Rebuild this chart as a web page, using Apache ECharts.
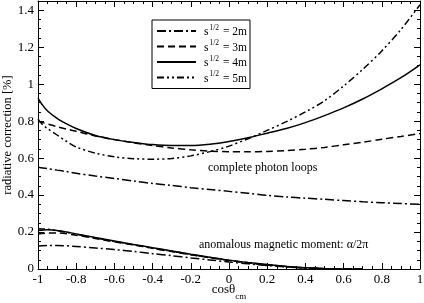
<!DOCTYPE html>
<html><head><meta charset="utf-8">
<script src="https://cdn.jsdelivr.net/npm/echarts@6/dist/echarts.min.js"></script>
<style>html,body{margin:0;padding:0;background:#fff}#c{width:424px;height:303px}</style>
</head><body><div id="c"></div>
<script>
const energies = ['2m', '3m', '4m', '5m'];
const cosFull = [-1,-0.975,-0.95,-0.9,-0.85,-0.8,-0.7,-0.6,-0.5,-0.4,-0.3,-0.2,-0.1,0,0.1,0.2,0.3,0.4,0.5,0.6,0.7,0.8,0.9,1];
const loops2m = [0.55,0.546,0.543,0.535,0.527,0.518,0.503,0.49,0.476,0.463,0.452,0.44,0.43,0.42,0.41,0.398,0.39,0.383,0.377,0.37,0.364,0.359,0.354,0.35];
const loops3m = [0.80,0.792,0.785,0.77,0.757,0.745,0.72,0.70,0.683,0.668,0.655,0.645,0.638,0.635,0.634,0.636,0.641,0.648,0.658,0.672,0.686,0.702,0.717,0.733];
const loops4m = [0.925,0.885,0.855,0.815,0.785,0.76,0.722,0.70,0.685,0.673,0.668,0.668,0.675,0.69,0.71,0.735,0.76,0.792,0.83,0.872,0.92,0.975,1.035,1.105];
const loops5m = [0.81,0.78,0.76,0.725,0.69,0.66,0.627,0.607,0.597,0.594,0.598,0.612,0.635,0.665,0.705,0.75,0.797,0.85,0.91,0.99,1.08,1.18,1.295,1.43];
const cosAnom = [-1,-0.95,-0.9,-0.8,-0.7,-0.6,-0.5,-0.4,-0.3,-0.2,-0.1,0,0.1,0.2,0.3,0.4,0.5,0.6,0.7];
const anom2m = [0.125,0.127,0.127,0.122,0.114,0.105,0.095,0.083,0.072,0.06,0.049,0.038,0.028,0.019,0.011,0.005,0.002,0.0005,0];
const anom3m = [0.19,0.194,0.195,0.183,0.165,0.147,0.13,0.112,0.094,0.077,0.061,0.046,0.033,0.022,0.013,0.006,0.002,0.0005,0];
const anom4m = [0.208,0.212,0.208,0.19,0.17,0.152,0.133,0.115,0.098,0.08,0.064,0.048,0.035,0.024,0.014,0.007,0.002,0.0005,0];
const anom5m = [0.218,0.215,0.208,0.188,0.168,0.149,0.131,0.113,0.096,0.079,0.063,0.047,0.034,0.023,0.013,0.006,0.002,0.0005,0];

const FONT = 'Liberation Serif';
const dashes = {
  '2m': [9, 3, 2, 3],
  '3m': [7, 4],
  '4m': 'solid',
  '5m': [7, 3, 2, 3, 2, 3]
};
const loops = {'2m': loops2m, '3m': loops3m, '4m': loops4m, '5m': loops5m};
const anom = {'2m': anom2m, '3m': anom3m, '4m': anom4m, '5m': anom5m};
const zip = (xs, ys) => xs.map((x, i) => [x, ys[i]]);

const series = [];
energies.forEach(e => {
  const base = {
    name: e, type: 'line', symbol: 'none', smooth: 0.3,
    lineStyle: {color: '#000', width: 1.5, type: dashes[e]},
    itemStyle: {color: '#000'}, z: 3
  };
  series.push(Object.assign({}, base, {data: zip(cosFull, loops[e])}));
  series.push(Object.assign({}, base, {data: zip(cosAnom, anom[e])}));
});

const tickCommon = {
  axisLine: {show: true, onZero: false, lineStyle: {color: '#000', width: 1}},
  axisTick: {show: true, inside: true, length: 6, lineStyle: {color: '#000'}},
  minorTick: {show: true, splitNumber: 4, length: 3, lineStyle: {color: '#000'}},
  splitLine: {show: false}
};
function mk(extra) { return Object.assign({}, JSON.parse(JSON.stringify(tickCommon)), extra); }

const chart = echarts.init(document.getElementById('c'), null, {renderer: 'canvas'});
chart.setOption({
  animation: false,
  backgroundColor: '#fff',
  grid: {left: 38, right: 4, top: 1, bottom: 34, outerBoundsMode: 'none', containLabel: false},
  legend: {
    data: energies,
    orient: 'vertical',
    left: 152, top: 20,
    padding: [4, 3, 4, 4],
    itemWidth: 39, itemHeight: 14, itemGap: 1.5,
    borderColor: '#000', borderWidth: 1, backgroundColor: '#fff',
    inactiveColor: '#000',
    itemStyle: {opacity: 0},
    formatter: n => '{s|s}{p|1/2}{t| = ' + n + '}',
    textStyle: {
      fontFamily: FONT, color: '#000', padding: [0, 0, 0, 3],
      rich: {
        s: {fontFamily: FONT, fontSize: 11.5, color: '#000', verticalAlign: 'bottom', lineHeight: 14},
        p: {fontFamily: FONT, fontSize: 7.5, color: '#000', verticalAlign: 'top', lineHeight: 14, padding: [0, 1, 0, 1]},
        t: {fontFamily: FONT, fontSize: 11.5, color: '#000', verticalAlign: 'bottom', lineHeight: 14}
      }
    }
  },
  xAxis: [
    mk({
      type: 'value', min: -1, max: 1, interval: 0.2, position: 'bottom',
      axisLabel: {fontFamily: FONT, fontSize: 13, color: '#000', margin: 4},
      name: '{a|cosθ}{b|cm}', nameLocation: 'middle', nameGap: 14, nameMoveOverlap: false,
      nameTextStyle: {rich: {
        a: {fontFamily: FONT, fontSize: 13, color: '#000', verticalAlign: 'top', lineHeight: 18},
        b: {fontFamily: FONT, fontSize: 9, color: '#000', verticalAlign: 'bottom', lineHeight: 18}
      }}
    }),
    mk({type: 'value', min: -1, max: 1, interval: 0.2, position: 'top', axisLabel: {show: false}})
  ],
  yAxis: [
    mk({
      type: 'value', min: 0, max: 1.45, interval: 0.2, position: 'left',
      axisLabel: {fontFamily: FONT, fontSize: 13, color: '#000', margin: 4,
        formatter: v => (Math.abs(Math.round(v * 5) - v * 5) < 1e-6) ? String(Math.round(v * 10) / 10) : ''},
      name: 'radiative correction [%]', nameLocation: 'middle', nameGap: 24, nameMoveOverlap: false,
      nameTextStyle: {fontFamily: FONT, fontSize: 12.5, color: '#000'}
    }),
    mk({type: 'value', min: 0, max: 1.45, interval: 0.2, position: 'right', axisLabel: {show: false}})
  ],
  graphic: [
    {type: 'text', left: 208, top: 162, z: 10,
     style: {text: 'complete photon loops', font: '12px "Liberation Serif"', fill: '#000'}},
    {type: 'text', left: 199, top: 239, z: 10,
     style: {text: 'anomalous magnetic moment: α/2π', font: '12px "Liberation Serif"', fill: '#000'}}
  ],
  series: series
});
</script></body></html>
